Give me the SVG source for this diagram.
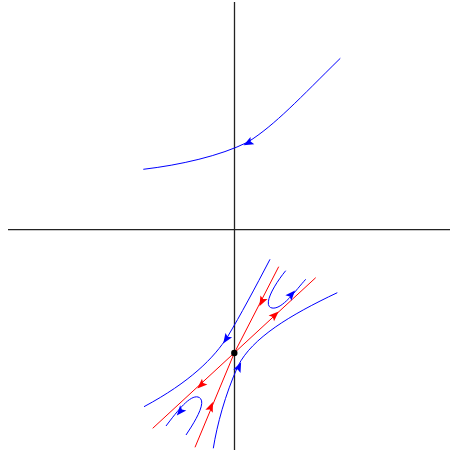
<svg xmlns="http://www.w3.org/2000/svg" width="450" height="453" viewBox="0 0 450 453">
<style>
.ax{stroke:#222;stroke-width:1.3;fill:none}
.b{stroke:#0000ff;stroke-width:1;fill:none}
.r{stroke:#ff0000;stroke-width:1;fill:none}
.ab{fill:#0000ff}
.ar{fill:#ff0000}
</style>
<defs>
<path id="ah" d="M5,0 L-5,-4 L-3,0 L-5,4 Z"/>
</defs>
<rect width="450" height="453" fill="#fff"/>
<g id="axes">
<line class="ax" x1="8" y1="229.7" x2="450" y2="229.7"/>
<line class="ax" x1="234.5" y1="2" x2="234.5" y2="450"/>
</g>
<g id="connectors">
<path class="b" d="M340.3,58.3 C300,98 275,125 248,142 C220,156 180,165 143.3,169.3"/>
<path class="r" d="M278.7,266.7 L234.3,353 L195,447.3"/>
<path class="r" d="M315.7,277.7 L152.7,428.3"/>
<path class="b" d="M270,259.3 C255,288 240,316 228,336 C214,358 190,382 144,406.7"/>
<path class="b" d="M213.3,448.3 C217,425 225,395 238,366 C252,338 290,315 337.3,292.7"/>
<path class="b" d="M285.7,270.7 C274,285 262,306 272,308 C282,310 296,290 305.7,279.3"/>
<path class="b" d="M186,435 C196,420 208,400 198,397 C190,395 178,410 166,426"/>
<use href="#ah" class="ab" transform="translate(248,143) rotate(151.8)"/>
<use href="#ah" class="ar" transform="translate(261.7,301.7) rotate(117.2)"/>
<use href="#ah" class="ar" transform="translate(211,406.7) rotate(-67.4)"/>
<use href="#ah" class="ar" transform="translate(275,315) rotate(-42.8)"/>
<use href="#ah" class="ar" transform="translate(201,385) rotate(137.3)"/>
<use href="#ah" class="ab" transform="translate(226,339.3) rotate(123.7)"/>
<use href="#ah" class="ab" transform="translate(239,366.7) rotate(-65)"/>
<use href="#ah" class="ab" transform="translate(291.7,294.3) rotate(-48)"/>
<use href="#ah" class="ab" transform="translate(180,411.7) rotate(130)"/>
</g>
<g id="saddle">
<circle cx="234.3" cy="353" r="3.2" fill="#000"/>
</g>
</svg>
